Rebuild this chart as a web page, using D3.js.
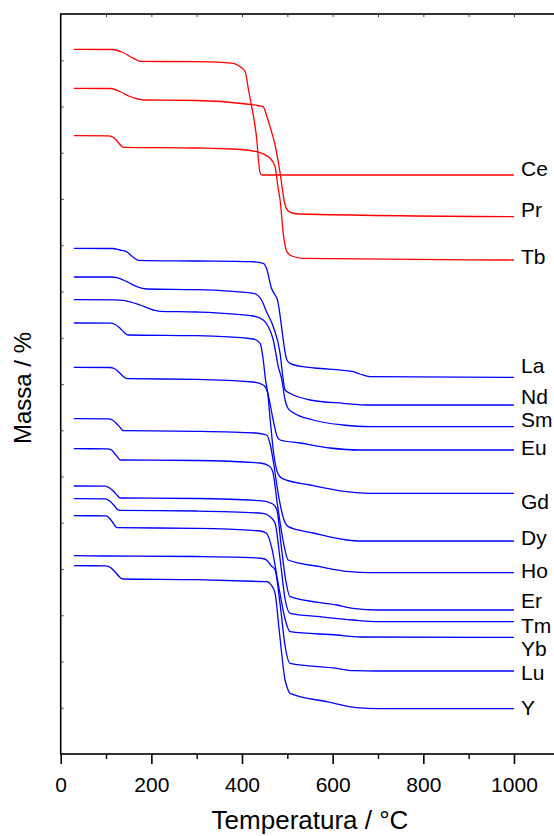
<!DOCTYPE html>
<html><head><meta charset="utf-8">
<script src="https://cdn.jsdelivr.net/npm/d3@7"></script>
<style>html,body{margin:0;padding:0;background:#fff;}svg{display:block;}</style>
</head><body>
<script>
// Temperature (°C) vs relative mass (offset units)
const Ce = [[29,704.7],[115,704.5],[135,702],[155,697],[168,694],[175,692.7],[300,692.3],[381,690.7],[396,687.3],[407,682.3],[414,665],[432,617],[440,581],[445,579],[1000,579]];
const Pr = [[29,665.7],[110,665.5],[130,662.5],[150,658],[170,655],[182,654],[300,653.5],[410,650],[435,648.5],[447,647],[454,639],[462,627],[473,609],[484,581],[495,549],[502,543],[510,541],[528,540],[1000,537.3]];
const Tb = [[29,618.3],[105,618.2],[118,616],[128,611],[135,607.5],[140,606.7],[300,606],[381,605],[432,602.3],[462,595.7],[473,587.3],[480,565],[484,554],[491,520.7],[499,502.3],[510,498],[535,495.7],[1000,494]];
const La = [[29,505.7],[115,505.5],[130,504],[145,502.3],[160,496.7],[171,493.7],[300,493],[420,492.3],[447,490.7],[454,485.7],[465,465.7],[473,459],[477,455.7],[499,394],[506,390.7],[535,387.3],[560,386],[645,382.3],[660,380],[682,377.3],[1000,376.7]];
const Nd = [[29,477],[110,477],[124,476.3],[146,472.3],[168,467.3],[190,465],[300,464.3],[425,460.7],[443,454],[454,442.3],[469,427.3],[484,400.7],[491,374],[495,364],[506,360.7],[550,354],[623,350.7],[682,349],[1000,349]];
const Sm = [[29,454.3],[120,454.2],[138,453.7],[175,449],[204,444],[219,442.7],[300,442],[425,438],[447,434],[458,427.3],[469,414],[480,387.3],[488,374],[495,354],[501,346],[510,342.3],[557,334],[623,329],[682,327.3],[1000,327.3]];
const Eu = [[29,431],[110,430.8],[118,430],[128,427],[140,421.5],[149,419],[300,418.3],[425,415],[440,410.7],[446,397],[452,374],[462,350],[471,329],[477,318],[484,314],[528,311],[594,306],[660,304],[1000,304]];
const Gd = [[29,386.7],[108,386.5],[118,385.5],[128,382],[138,377.5],[146,375.3],[300,374.7],[424,372],[447,369],[456,362],[462,335],[470,300],[478,282],[488,275.7],[550,269],[631,262.3],[680,260.7],[1000,260.7]];
const Dy = [[29,335.3],[104,335.2],[114,334],[124,330],[132,326],[138,323.3],[300,322.7],[430,321],[454,319],[462,310],[470,290],[480,260],[490,238],[502,227.3],[557,221],[631,214],[660,213],[1000,213]];
const Ho = [[29,305.3],[103,305.2],[112,304],[120,300],[126,296.5],[131,294],[300,293.5],[440,291],[460,288],[468,282],[478,250],[490,215],[502,194],[572,187.3],[638,182.3],[680,181.3],[1000,181.3]];
const Er = [[29,268],[98,267.8],[108,266],[118,262],[126,258],[131,256],[300,255.5],[440,253.3],[468,250],[477,244],[486,210],[496,175],[506,157.3],[609,149],[645,145.7],[700,144],[1000,144]];
const Tm = [[29,255.3],[98,255.2],[108,253],[118,248.5],[124,245],[129,243.7],[300,243],[446,240.7],[465,236],[473,230.7],[484,195],[495,155],[506,140.7],[572,137.3],[645,134],[700,132.3],[1000,132.3]];
const Yb = [[29,238.3],[99,238.2],[107,236],[114,232],[120,228],[124,226.3],[300,225.7],[440,223],[454,220.7],[465,207.3],[480,170],[495,135],[506,122.3],[609,119],[660,117],[1000,116.7]];
const Lu = [[29,198.3],[100,198],[300,197.5],[400,196.7],[445,195.5],[454,194],[465,188],[473,184],[484,150],[495,108],[506,90.7],[609,85.7],[645,83.3],[700,83],[1000,83]];
const Yt = [[29,188.3],[100,188.2],[110,186.5],[120,182],[130,177],[137,175],[300,174.3],[440,172.5],[454,172.3],[466,168],[473,160.7],[482,124],[495,74],[500,66],[506,60.7],[587,52.3],[653,46.3],[700,45.3],[1000,45.3]];

const redNames  = ["Ce","Pr","Tb"];
const blueNames = ["La","Nd","Sm","Eu","Gd","Dy","Ho","Er","Tm","Yb","Lu","Y"];
const seriesData = {Ce,Pr,Tb,La,Nd,Sm,Eu,Gd,Dy,Ho,Er,Tm,Yb,Lu,Y:Yt};
// label baseline levels (same units as mass axis)
const labelLevel = {Ce:578.5,Pr:537,Tb:490,La:381.3,Nd:350,Sm:326.7,Eu:299,Gd:245,Dy:209,Ho:176,Er:146,Tm:121.5,Yb:98,Lu:74,Y:39};

const xTicks = [0,200,400,600,800,1000];
const xLabel = "Temperatura / °C";
const yLabel = "Massa / %";

const W = 554, H = 836;
const svg = d3.select("body").append("svg").attr("width",W).attr("height",H)
  .style("font-family","'Liberation Sans', Arial, sans-serif");

const x = d3.scaleLinear().domain([0,1100]).range([60.7,559.3]);
const y = d3.scaleLinear().domain([0,740]).range([754,14]);

// frame
const frame = svg.append("g");
frame.append("rect").attr("x",x(0)).attr("y",y(740)).attr("width",x(1100)-x(0)).attr("height",y(0)-y(740))
  .attr("fill","none").attr("stroke","#000").attr("stroke-width",1.6);

// bottom axis
const minor = d3.range(100,1100,200);
const bottom = svg.append("g").attr("transform",`translate(0,${y(0)})`)
  .call(d3.axisBottom(x).tickValues(xTicks).tickSize(10).tickPadding(13).tickFormat(d3.format("d")));
bottom.select(".domain").remove();
bottom.selectAll("line").attr("stroke-width",1.6);
bottom.selectAll("text").attr("font-size",21).attr("fill","#000").attr("font-family","'Liberation Sans', Arial, sans-serif");
svg.append("g").attr("transform",`translate(0,${y(0)})`)
  .call(d3.axisBottom(x).tickValues(minor).tickSize(5).tickFormat(""))
  .call(g=>g.select(".domain").remove()).selectAll("line").attr("stroke-width",1.4);

// top inner ticks
svg.append("g").attr("transform",`translate(0,${y(740)})`)
  .call(d3.axisTop(x).tickValues(d3.range(100,1100,100)).tickSize(-3).tickFormat(""))
  .call(g=>g.select(".domain").remove()).selectAll("line").attr("stroke","#444").attr("stroke-width",1);
// left inner ticks
svg.append("g").attr("transform",`translate(${x(0)},0)`)
  .call(d3.axisLeft(y).tickValues(d3.range(46.25,740,46.25)).tickSize(-3).tickFormat(""))
  .call(g=>g.select(".domain").remove()).selectAll("line").attr("stroke","#444").attr("stroke-width",1);

// curves
const line = d3.line().x(d=>x(d[0])).y(d=>y(d[1])).curve(d3.curveMonotoneX);
const drawSeries = (names,color)=>{
  names.forEach(n=>{
    svg.append("path").datum(seriesData[n]).attr("d",line)
      .attr("fill","none").attr("stroke",color).attr("stroke-width",1.3);
  });
};
drawSeries(blueNames,"#0000ff");
drawSeries(redNames,"#ff0000");

// labels
redNames.concat(blueNames).forEach(n=>{
  svg.append("text").attr("x",x(1000)+7).attr("y",y(labelLevel[n]))
    .attr("font-size",21).attr("fill","#000").text(n);
});

// axis titles
svg.append("text").attr("x",(x(0)+x(1100))/2).attr("y",829).attr("text-anchor","middle")
  .attr("font-size",26).attr("fill","#000").text(xLabel);
svg.append("text").attr("transform",`translate(31,388) rotate(-90)`).attr("text-anchor","middle")
  .attr("font-size",24).attr("fill","#000").text(yLabel);
</script>
</body></html>
